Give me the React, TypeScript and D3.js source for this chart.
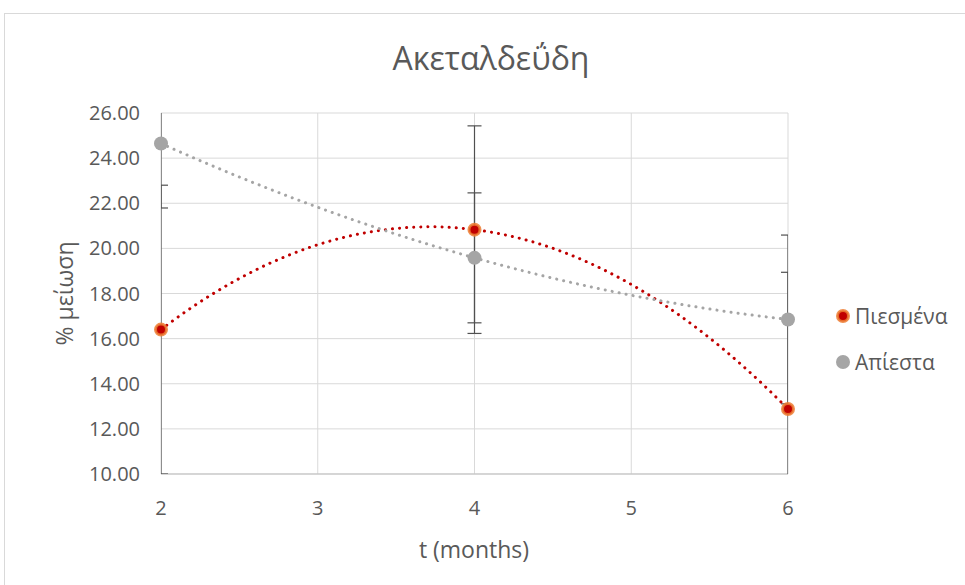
import React from "react";
import * as d3 from "d3";

// Acetaldehyde reduction over storage time
const months = [2, 4, 6];
const pressed = [16.4, 20.83, 12.88];
const pressedErr = [6.4, 4.6, 6.06];
const unpressed = [24.65, 19.58, 16.85];
const unpressedErr = [2.86, 2.88, 3.74];
const yTicks = [10, 12, 14, 16, 18, 20, 22, 24, 26];
const xTicks = [2, 3, 4, 5, 6];
const seriesNames = ["Πιεσμένα", "Απίεστα"];

const W = 965;
const H = 585;
const plot = { left: 161, right: 788, top: 113, bottom: 474 };
const font = "'Open Sans', 'Noto Sans', sans-serif";
const textColor = "#595959";

// Second-order polynomial trendline (least squares)
function polyFit(xs: number[], ys: number[]) {
  const n = xs.length;
  const s = [0, 0, 0, 0, 0];
  const t = [0, 0, 0];
  for (let i = 0; i < n; i++) {
    for (let k = 0; k < 5; k++) s[k] += Math.pow(xs[i], k);
    for (let k = 0; k < 3; k++) t[k] += ys[i] * Math.pow(xs[i], k);
  }
  const M = [
    [s[0], s[1], s[2], t[0]],
    [s[1], s[2], s[3], t[1]],
    [s[2], s[3], s[4], t[2]],
  ];
  for (let c = 0; c < 3; c++) {
    for (let r = c + 1; r < 3; r++) {
      const f = M[r][c] / M[c][c];
      for (let k = c; k < 4; k++) M[r][k] -= f * M[c][k];
    }
  }
  const co = [0, 0, 0];
  for (let r = 2; r >= 0; r--) {
    let v = M[r][3];
    for (let k = r + 1; k < 3; k++) v -= M[r][k] * co[k];
    co[r] = v / M[r][r];
  }
  return (x: number) => co[0] + co[1] * x + co[2] * x * x;
}

export default function App() {
  const x = d3.scaleLinear().domain([2, 6]).range([plot.left, plot.right]);
  const y = d3.scaleLinear().domain([10, 26]).range([plot.bottom, plot.top]);

  const trend = (ys: number[]) => {
    const f = polyFit(months, ys);
    const pts = d3.range(2, 6.0001, 0.05).map((v) => [v, f(v)] as [number, number]);
    return d3
      .line<[number, number]>()
      .x((d) => x(d[0]))
      .y((d) => y(d[1]))(pts) as string;
  };

  const series = [
    { name: seriesNames[0], vals: pressed, errs: pressedErr, line: "#c00000", fill: "#c00000", stroke: "#ed7d31", r: 5.5 },
    { name: seriesNames[1], vals: unpressed, errs: unpressedErr, line: "#a5a5a5", fill: "#a5a5a5", stroke: "none", r: 7 },
  ];

  return (
    <svg
      width={W}
      height={H}
      style={{ position: "absolute", left: 0, top: 0, background: "#fff" }}
      fontFamily={font}
    >
      <defs>
        <clipPath id="plotClip">
          <rect x={plot.left} y={plot.top} width={plot.right - plot.left} height={plot.bottom - plot.top} />
        </clipPath>
      </defs>
      <rect x={4.5} y={13.5} width={W + 10} height={H + 10} fill="#fff" stroke="#d9d9d9" />

      <text x={491} y={70} textAnchor="middle" fontSize={32} fill={textColor}>
        Ακεταλδεΰδη
      </text>

      {/* gridlines */}
      {yTicks.map((t) => (
        <line key={"gy" + t} x1={plot.left} x2={plot.right} y1={y(t)} y2={y(t)} stroke="#d9d9d9" strokeWidth={1} />
      ))}
      {xTicks.map((t) => (
        <line key={"gx" + t} x1={x(t)} x2={x(t)} y1={plot.top} y2={plot.bottom} stroke="#d9d9d9" strokeWidth={1} />
      ))}
      <line x1={plot.left} x2={plot.right} y1={plot.bottom} y2={plot.bottom} stroke="#bfbfbf" strokeWidth={1} />

      {/* tick labels */}
      {yTicks.map((t) => (
        <text key={"ty" + t} x={140} y={y(t) + 7} textAnchor="end" fontSize={20} fill={textColor}>
          {t.toFixed(2)}
        </text>
      ))}
      {xTicks.map((t) => (
        <text key={"tx" + t} x={x(t)} y={515} textAnchor="middle" fontSize={20} fill={textColor}>
          {t}
        </text>
      ))}

      <text x={474} y={558} textAnchor="middle" fontSize={23} fill={textColor}>
        t (months)
      </text>
      <text
        transform={`translate(73, ${(plot.top + plot.bottom) / 2}) rotate(-90)`}
        textAnchor="middle"
        fontSize={23}
        fill={textColor}
      >
        % μείωση
      </text>

      {/* error bars */}
      <g clipPath="url(#plotClip)" stroke="#505050" strokeWidth={1.2}>
        {series.map((s) =>
          months.map((m, i) => {
            const hi = y(s.vals[i] + s.errs[i]);
            const lo = y(s.vals[i] - s.errs[i]);
            const cx = x(m);
            return (
              <g key={s.name + m}>
                <line x1={cx} x2={cx} y1={hi} y2={lo} />
                <line x1={cx - 7} x2={cx + 7} y1={hi} y2={hi} />
                <line x1={cx - 7} x2={cx + 7} y1={lo} y2={lo} />
              </g>
            );
          })
        )}
      </g>

      {/* trendlines */}
      {series.map((s) => (
        <path
          key={"tr" + s.name}
          d={trend(s.vals)}
          fill="none"
          stroke={s.line}
          strokeWidth={3}
          strokeLinecap="round"
          strokeDasharray="0.1 7"
        />
      ))}

      {/* markers */}
      {series.map((s) =>
        months.map((m, i) => (
          <circle
            key={"m" + s.name + m}
            cx={x(m)}
            cy={y(s.vals[i])}
            r={s.r}
            fill={s.fill}
            stroke={s.stroke}
            strokeWidth={s.stroke === "none" ? 0 : 3}
            strokeOpacity={0.85}
          />
        ))
      )}

      {/* legend */}
      {series.map((s, i) => (
        <g key={"lg" + s.name} transform={`translate(843, ${316 + i * 46})`}>
          <circle r={s.r} fill={s.fill} stroke={s.stroke} strokeWidth={s.stroke === "none" ? 0 : 3} strokeOpacity={0.85} />
          <text x={12} y={8} fontSize={21} fill={textColor}>
            {s.name}
          </text>
        </g>
      ))}
    </svg>
  );
}
